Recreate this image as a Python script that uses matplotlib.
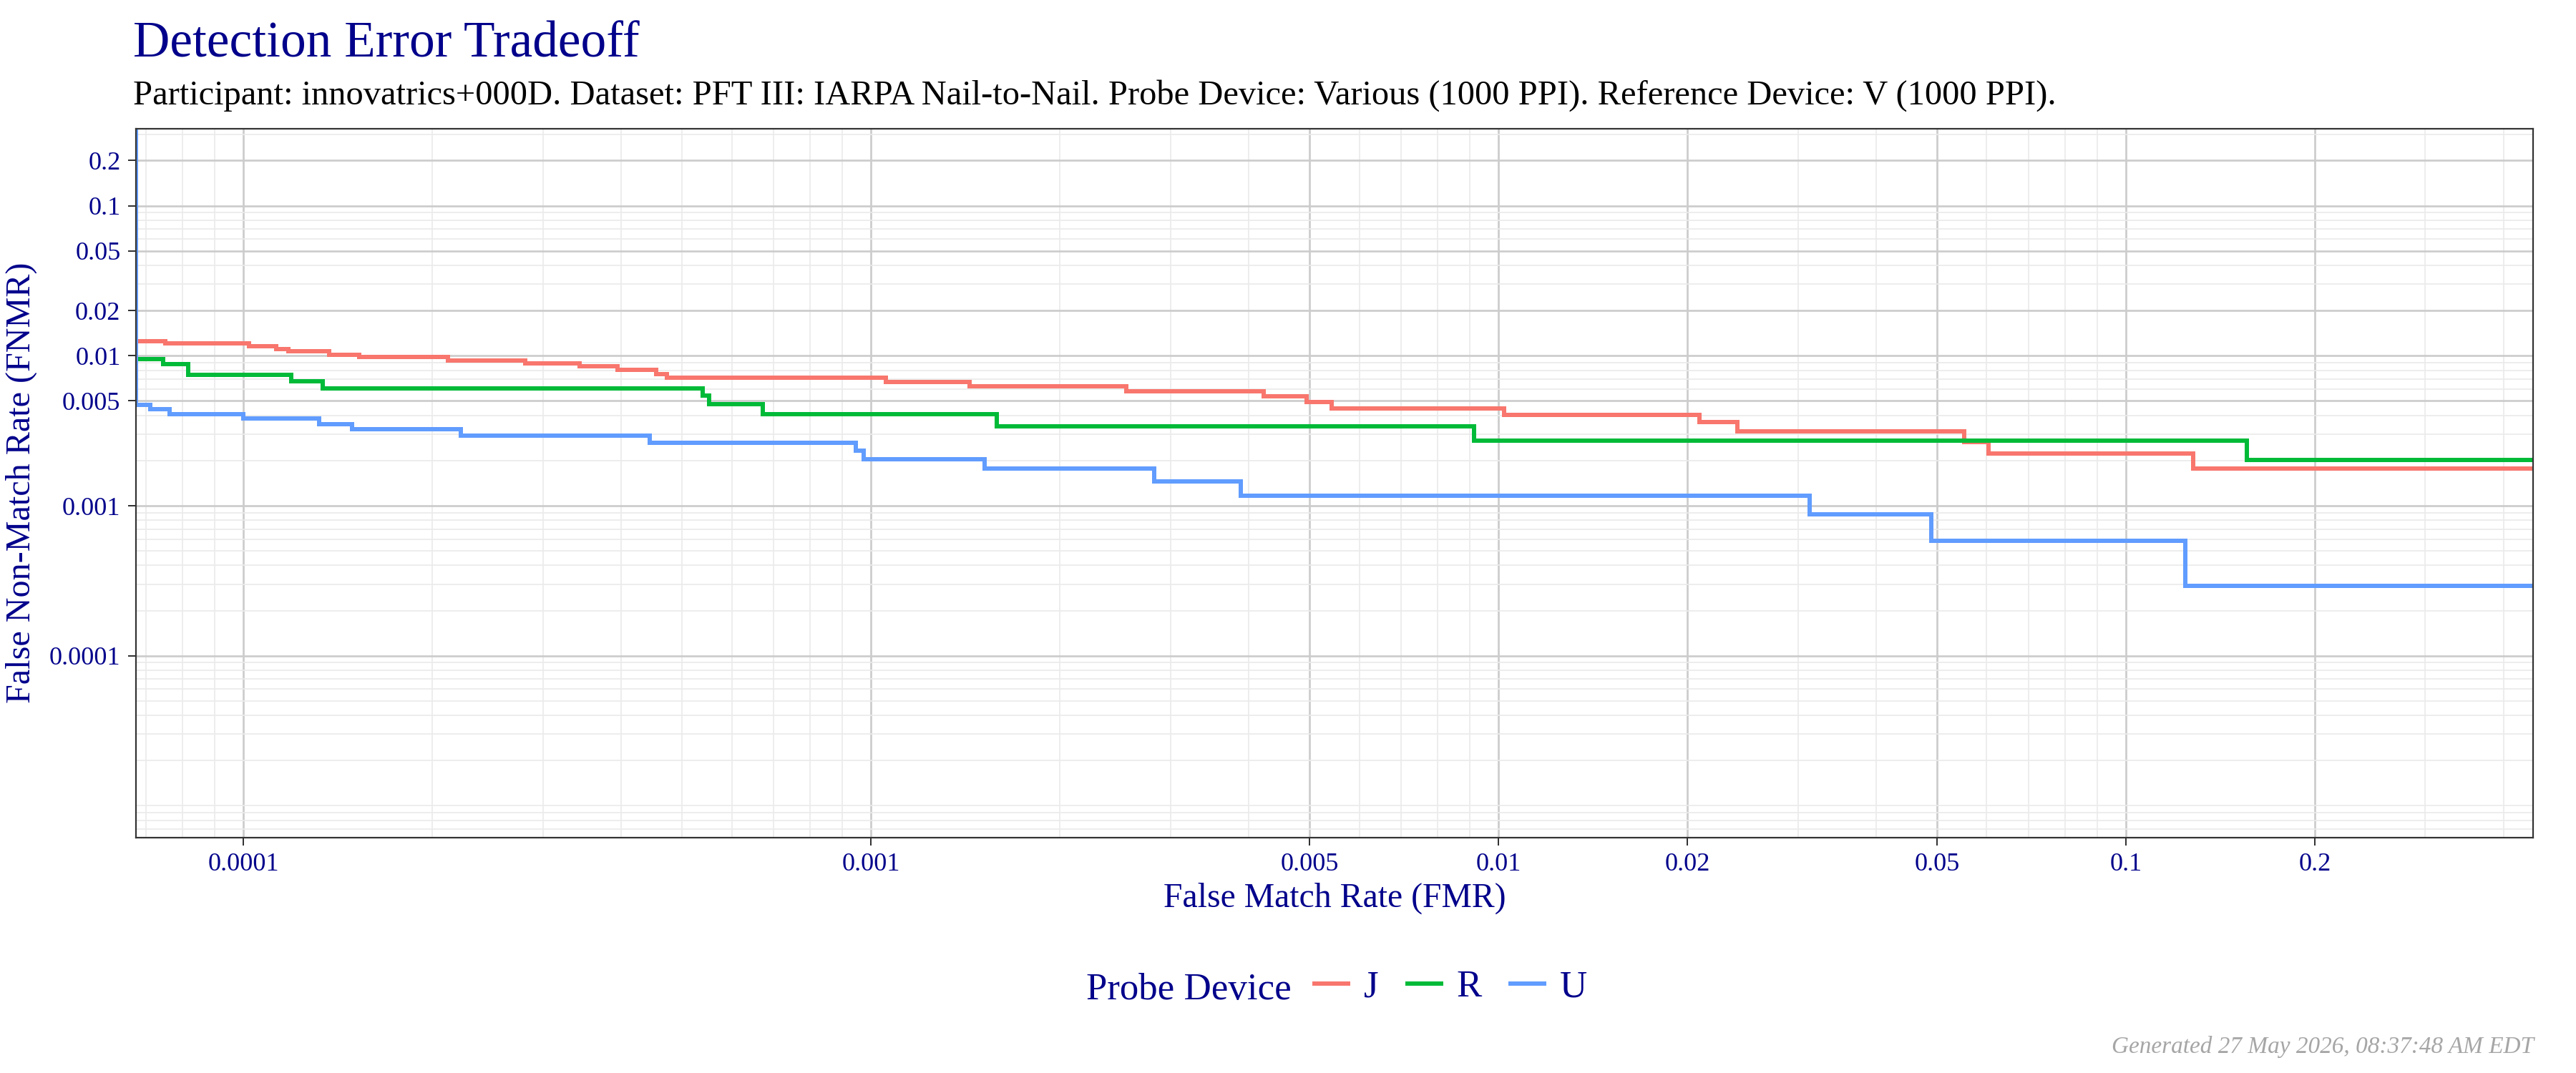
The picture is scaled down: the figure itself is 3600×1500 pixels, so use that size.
import numpy as np
import matplotlib
matplotlib.use("Agg")
import matplotlib.pyplot as plt
from matplotlib.ticker import FixedLocator, FixedFormatter, LogLocator, NullFormatter
from matplotlib.lines import Line2D

# ---------------- data ----------------
series_names = ["J", "R", "U"]
series_colors = ["#F8766D", "#00BA38", "#619CFF"]

fmr_J = [6.73e-5, 6.73e-5, 7.5e-5, 1.02e-4, 1.127e-4, 1.178e-4, 1.37e-4, 1.53e-4, 2.12e-4,
         2.81e-4, 3.43e-4, 3.95e-4, 4.55e-4, 4.73e-4, 1.057e-3, 1.436e-3, 2.55e-3,
         4.23e-3, 4.95e-3, 5.42e-3, 0.0102, 0.0209, 0.024, 0.0553, 0.0604, 0.128, 0.5]
fnmr_J = [1.0, 0.01245, 0.0121, 0.01157, 0.0111, 0.01072, 0.0102, 0.00978, 0.0093,
          0.00892, 0.00848, 0.00803, 0.00757, 0.00716, 0.0067, 0.00626, 0.00582,
          0.00537, 0.0049, 0.00447, 0.00403, 0.00362, 0.00313, 0.00267, 0.00223, 0.00178, 0.00178]

fmr_R = [6.73e-5, 6.73e-5, 7.44e-5, 8.17e-5, 1.19e-4, 1.337e-4, 5.39e-4, 5.52e-4, 6.72e-4,
         1.587e-3, 9.14e-3, 0.1557, 0.5]
fnmr_R = [1.0, 0.00947, 0.00882, 0.00746, 0.00678, 0.00607, 0.00543, 0.00474, 0.00407,
          0.00338, 0.00271, 0.00203, 0.00203]

fmr_U = [6.73e-5, 6.73e-5, 7.1e-5, 7.62e-5, 1.0e-4, 1.32e-4, 1.49e-4, 2.22e-4, 4.44e-4,
         9.46e-4, 9.73e-4, 1.516e-3, 2.83e-3, 3.88e-3, 0.0313, 0.0489, 0.1245, 0.5]
fnmr_U = [1.0, 0.0047, 0.00439, 0.0041, 0.00382, 0.00351, 0.00323, 0.00294, 0.00264,
          0.00234, 0.00205, 0.00177, 0.00146, 0.00117, 0.000877, 0.000586, 0.000294, 0.000294]

x_ticks = [1e-4, 1e-3, 5e-3, 1e-2, 2e-2, 5e-2, 0.1, 0.2]
x_tick_labels = ["0.0001", "0.001", "0.005", "0.01", "0.02", "0.05", "0.1", "0.2"]
y_ticks = [1e-4, 1e-3, 5e-3, 1e-2, 2e-2, 5e-2, 0.1, 0.2]
y_tick_labels = ["0.0001", "0.001", "0.005", "0.01", "0.02", "0.05", "0.1", "0.2"]

title = "Detection Error Tradeoff"
subtitle = ("Participant: innovatrics+000D. Dataset: PFT III: IARPA Nail-to-Nail. "
            "Probe Device: Various (1000 PPI). Reference Device: V (1000 PPI).")
xlabel = "False Match Rate (FMR)"
ylabel = "False Non-Match Rate (FNMR)"
legend_title = "Probe Device"
footer = "Generated 27 May 2026, 08:37:48 AM EDT"

# ---------------- figure ----------------
W, H, DPI = 3600, 1500, 300
plt.rcParams["font.family"] = ["Liberation Serif", "DejaVu Serif"]
fig = plt.figure(figsize=(W / DPI, H / DPI), dpi=DPI)
PT = DPI / 72.0  # px per point

def fx(px):
    return px / W

def fy(py):
    return 1 - py / H

L, R, T, B = 189.5, 3540, 180, 1170.7
ax = fig.add_axes([fx(L), fy(B), fx(R - L), (B - T) / H])
ax.set_xscale("log")
ax.set_yscale("log")
ax.set_xlim(6.73e-5, 0.4455)
ax.set_ylim(6.15e-6, 0.326)

navy = "#00008B"
data = [(fmr_J, fnmr_J), (fmr_R, fnmr_R), (fmr_U, fnmr_U)]
for (xs, ys), name, col in zip(data, series_names, series_colors):
    ax.plot(xs, ys, drawstyle="steps-post", color=col, lw=6 / PT, label=name,
            solid_joinstyle="miter", zorder=3)

for axis, ticks, labels in ((ax.xaxis, x_ticks, x_tick_labels), (ax.yaxis, y_ticks, y_tick_labels)):
    axis.set_major_locator(FixedLocator(ticks))
    axis.set_major_formatter(FixedFormatter(labels))
    axis.set_minor_locator(LogLocator(base=10, subs=np.arange(1, 10), numticks=50))
    axis.set_minor_formatter(NullFormatter())

ax.tick_params(which="major", length=11 / PT, width=2 / PT, color="#333333",
               labelcolor=navy, labelsize=8.7, pad=10 / PT)
ax.tick_params(which="minor", length=0)
ax.grid(which="minor", color="#ebebeb", lw=1.7 / PT, zorder=0)
ax.grid(which="major", color="#cccccc", lw=2.7 / PT, zorder=1)
ax.set_axisbelow(True)
for s in ax.spines.values():
    s.set_color("#333333")
    s.set_linewidth(2.2 / PT)
    s.set_zorder(4)

fig.canvas.draw()
renderer = fig.canvas.get_renderer()

def fit(t, target, vertical=False):
    bb = t.get_window_extent(renderer)
    cur = bb.height if vertical else bb.width
    t.set_fontsize(t.get_fontsize() * target / cur)
    return t

t1 = fig.text(fx(186), fy(79), title, color=navy, fontsize=17, ha="left", va="baseline")
fit(t1, 709)
t2 = fig.text(fx(186), fy(146), subtitle, color="black", fontsize=10.5, ha="left", va="baseline")
fit(t2, 2682)
t3 = fig.text(fx(1865), fy(1268), xlabel, color=navy, fontsize=12, ha="center", va="baseline")
fit(t3, 479)
t4 = fig.text(fx(30), fy(675), ylabel, color=navy, fontsize=12, ha="center", va="center",
              rotation=90)
fit(t4, 617, vertical=True)
t5 = fig.text(fx(1805), fy(1396.7), legend_title, color=navy, fontsize=12.5, ha="right",
              va="baseline")
fit(t5, 287)
t6 = fig.text(fx(3541), fy(1472), footer, color="#A6A6A6", fontsize=8, ha="right",
              va="baseline", style="italic")
fit(t6, 593)

lfs = t5.get_fontsize()
Fpx = lfs * PT
handles = [Line2D([], [], color=c, lw=6 / PT) for c in series_colors]
leg = fig.legend(handles, series_names, loc="center left",
                 bbox_to_anchor=(fx(1837), fy(1380)), ncol=3, frameon=False,
                 fontsize=lfs, handlelength=47 / Fpx, handletextpad=22 / Fpx,
                 columnspacing=40 / Fpx, borderpad=0, borderaxespad=0)
for txt in leg.get_texts():
    txt.set_color(navy)

fig.savefig("out.png", dpi=DPI, facecolor="white")
